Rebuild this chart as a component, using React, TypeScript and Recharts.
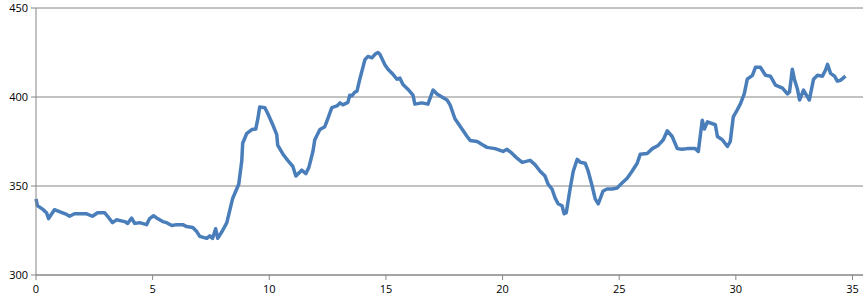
import { LineChart, Line, XAxis, YAxis, CartesianGrid } from 'recharts';

// Values
const xValues = [
  0, 0.06, 0.28, 0.45, 0.54, 0.79, 0.92, 1.31, 1.44, 1.65, 2.17, 2.42, 2.64, 2.94, 3.07, 3.28, 3.45, 3.8, 3.93, 4.1,
  4.23, 4.44, 4.74, 4.87, 5.04, 5.21, 5.43, 5.6, 5.82, 6.03, 6.29, 6.46, 6.72, 6.89, 7.02, 7.32, 7.45, 7.57, 7.7, 7.79,
  8.0, 8.18, 8.43, 8.69, 8.82, 8.86, 9.03, 9.25, 9.42, 9.51, 9.59, 9.81, 9.94, 10.15, 10.32, 10.36, 10.58, 10.79, 11.01, 11.14,
  11.39, 11.57, 11.7, 11.87, 11.95, 12.17, 12.38, 12.51, 12.68, 12.9, 13.03, 13.15, 13.37, 13.45, 13.54, 13.67, 13.76, 13.88, 14.1, 14.23,
  14.4, 14.53, 14.66, 14.74, 14.96, 15.09, 15.3, 15.47, 15.6, 15.73, 15.94, 16.16, 16.24, 16.54, 16.8, 17.02, 17.19, 17.4, 17.62, 17.75,
  17.96, 18.26, 18.48, 18.61, 18.91, 19.12, 19.33, 19.68, 20.02, 20.19, 20.41, 20.62, 20.84, 21.18, 21.39, 21.61, 21.82, 21.95, 22.12, 22.25,
  22.38, 22.55, 22.64, 22.73, 22.9, 23.03, 23.2, 23.33, 23.54, 23.67, 23.84, 23.97, 24.1, 24.23, 24.31, 24.48, 24.7, 24.91, 25.12, 25.34,
  25.55, 25.77, 25.9, 26.2, 26.42, 26.67, 26.89, 27.06, 27.27, 27.49, 27.7, 27.92, 28.26, 28.39, 28.56, 28.65, 28.78, 29.12, 29.21, 29.42,
  29.64, 29.76, 29.89, 30.06, 30.19, 30.36, 30.49, 30.71, 30.84, 31.05, 31.27, 31.48, 31.7, 32.0, 32.21, 32.3, 32.42, 32.51, 32.64, 32.73,
  32.9, 33.15, 33.33, 33.5, 33.71, 33.84, 33.93, 34.06, 34.23, 34.35, 34.48, 34.7,
];

const yValues = [
  342.8, 339, 337, 335, 331.7, 336.7, 336, 334, 333, 334.4, 334.4, 333, 335, 335, 333, 329.4, 331, 330, 329, 332,
  329, 329.4, 328.3, 331.7, 333.3, 331.7, 330, 329.4, 327.8, 328.3, 328.3, 327.2, 326.7, 324.4, 321.7, 320.6, 322, 320.6, 326, 320.6,
  325, 329.4, 343, 351, 364, 374, 379.4, 381.7, 382, 387.8, 394.4, 394, 390.6, 384.4, 378.9, 373, 368, 364.4, 361, 355.6,
  358.9, 357, 360.6, 369.4, 376, 381.7, 383.3, 387.8, 394, 395, 396.7, 395.6, 397, 401, 400.6, 402.8, 403.3, 410, 421, 422.8,
  422, 424, 425, 424, 418, 415.6, 412.8, 410, 410.6, 407, 404.4, 401, 396, 396.7, 396, 403.9, 401.7, 400, 398.3, 395.6,
  387.8, 382, 377.8, 375.6, 375, 373.3, 371.7, 371, 369.4, 370.6, 368.3, 365.6, 363.3, 364.4, 362, 358.3, 355.6, 351, 348.3, 343.3,
  340, 338.9, 334.4, 335, 348.9, 358.3, 365, 363.3, 362.8, 358.3, 350, 342.8, 340, 344.4, 347.2, 348.3, 348.3, 348.9, 351.7, 354.4,
  358.3, 362.8, 367.8, 368.3, 371, 372.8, 376, 381, 377.8, 371, 370.6, 371, 371, 369.4, 387, 382, 386, 384.4, 377.8, 376,
  372.2, 375, 388.9, 392.8, 396, 401.7, 410, 412.2, 416.7, 416.7, 412.2, 411.7, 406.7, 405, 401.7, 402.8, 415.6, 410, 404.4, 398.3,
  403.9, 398.3, 410, 412.2, 411.7, 415, 418.3, 413.3, 411.7, 408.9, 409.4, 411.7,
];

const xTicks = [0, 5, 10, 15, 20, 25, 30, 35];
const yTicks = [300, 350, 400, 450];

const data = xValues.map((x, i) => ({ x, y: yValues[i] }));

const AXIS_GRAY = '#868686';
const tickStyle = { fontSize: 11, fill: '#000', fontFamily: '"Open Sans", Calibri, sans-serif' };

export default function App() {
  return (
    <div style={{ width: 864, height: 303 }}>
      <style>{'body{margin:0}'}</style>
      <LineChart width={864} height={303} data={data} margin={{ top: 8, right: 1, left: 0, bottom: 0 }}>
        <CartesianGrid vertical={false} stroke={AXIS_GRAY} strokeWidth={1} />
        <XAxis
          dataKey="x"
          type="number"
          domain={[0, 35.45]}
          ticks={xTicks}
          interval={0}
          height={28}
          tick={tickStyle}
          tickSize={5}
          tickMargin={5}
          axisLine={{ stroke: AXIS_GRAY }}
          tickLine={{ stroke: AXIS_GRAY }}
        />
        <YAxis
          type="number"
          domain={[300, 450]}
          ticks={yTicks}
          interval={0}
          width={36}
          tick={tickStyle}
          tickSize={5}
          tickMargin={3}
          axisLine={{ stroke: AXIS_GRAY }}
          tickLine={{ stroke: AXIS_GRAY }}
        />
        <Line
          type="linear"
          dataKey="y"
          stroke="#4a7ebb"
          strokeWidth={3.5}
          strokeLinejoin="round"
          dot={false}
          isAnimationActive={false}
        />
      </LineChart>
    </div>
  );
}
